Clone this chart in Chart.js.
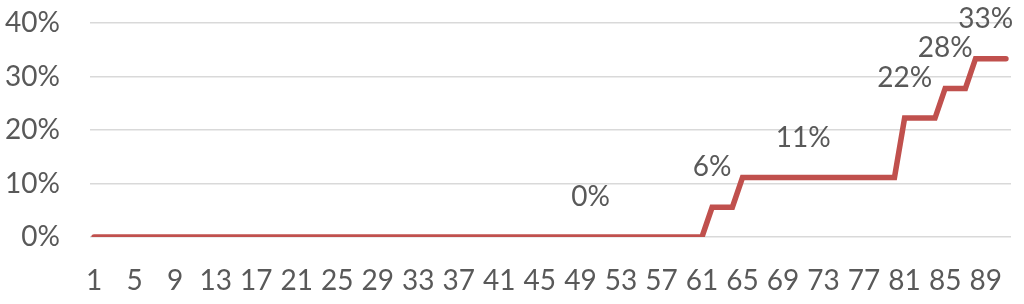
<!DOCTYPE html>
<html>
<head>
<meta charset="utf-8">
<script src="https://cdn.jsdelivr.net/npm/chart.js@4/dist/chart.umd.min.js"></script>
<style>
  html, body { margin: 0; padding: 0; background: #ffffff; }
  #wrap { width: 1024px; height: 304px; }
</style>
</head>
<body>
<div id="wrap"><canvas id="c" width="1024" height="304"></canvas></div>
<script>
const categories = [1,2,3,4,5,6,7,8,9,10,11,12,13,14,15,16,17,18,19,20,21,22,23,24,25,26,27,28,29,30,31,32,33,34,35,36,37,38,39,40,41,42,43,44,45,46,47,48,49,50,51,52,53,54,55,56,57,58,59,60,61,62,63,64,65,66,67,68,69,70,71,72,73,74,75,76,77,78,79,80,81,82,83,84,85,86,87,88,89,90,91];
const values = [0,0,0,0,0,0,0,0,0,0,0,0,0,0,0,0,0,0,0,0,0,0,0,0,0,0,0,0,0,0,0,0,0,0,0,0,0,0,0,0,0,0,0,0,0,0,0,0,0,0,0,0,0,0,0,0,0,0,0,0,0,
  5.56,5.56,5.56,
  11.11,11.11,11.11,11.11,11.11,11.11,11.11,11.11,11.11,11.11,11.11,11.11,11.11,11.11,11.11,11.11,
  22.22,22.22,22.22,22.22,
  27.78,27.78,27.78,
  33.33,33.33,33.33,33.33];
const xTickLabels = [1,5,9,13,17,21,25,29,33,37,41,45,49,53,57,61,65,69,73,77,81,85,89];
const yTickValues = [0,10,20,30,40];
const labelCategories = [50,62,71,81,85,89];
const labelTexts = ['0%','6%','11%','22%','28%','33%'];

const FONT = 'Lato, "Open Sans", sans-serif';
const TEXT = '#595959';

const points = categories.map((c, i) => ({ x: c, y: values[i] }));

const labelPlugin = {
  id: 'pointLabels',
  afterDatasetsDraw(chart) {
    const ctx = chart.ctx;
    const xs = chart.scales.x, ys = chart.scales.y;
    ctx.save();
    ctx.font = '28px ' + FONT;
    ctx.fillStyle = TEXT;
    ctx.textAlign = 'center';
    ctx.textBaseline = 'alphabetic';
    labelCategories.forEach((c, i) => {
      const idx = categories.indexOf(c);
      const px = xs.getPixelForValue(c);
      const py = ys.getPixelForValue(values[idx]);
      ctx.fillText(labelTexts[i], px, py - 41 + 10);
    });
    ctx.restore();
  }
};

new Chart(document.getElementById('c'), {
  type: 'line',
  data: {
    datasets: [{
      data: points,
      borderColor: '#C0504D',
      borderWidth: 5.5,
      borderCapStyle: 'round',
      borderJoinStyle: 'miter',
      pointRadius: 0,
      tension: 0,
      fill: false
    }]
  },
  options: {
    responsive: false,
    animation: false,
    devicePixelRatio: 1,
    layout: { padding: { top: 23, right: 13, bottom: 0, left: 0 } },
    plugins: { legend: { display: false }, tooltip: { enabled: false } },
    scales: {
      x: {
        type: 'linear',
        min: 0.6,
        max: 91.5,
        afterBuildTicks(scale) { scale.ticks = xTickLabels.map(v => ({ value: v })); },
        afterFit(scale) { scale.height = 67; scale.paddingLeft = 0; scale.paddingRight = 0; },
        grid: { display: false, drawTicks: false },
        border: { display: false },
        ticks: {
          autoSkip: false, maxRotation: 0, minRotation: 0,
          padding: 27,
          color: TEXT,
          font: { family: FONT, size: 28 },
          callback: v => String(v)
        }
      },
      y: {
        min: 0,
        max: 40,
        afterBuildTicks(scale) { scale.ticks = yTickValues.map(v => ({ value: v })); },
        afterFit(scale) { scale.width = 90; scale.paddingTop = 0; scale.paddingBottom = 0; },
        grid: { color: '#D9D9D9', lineWidth: 1.5, drawTicks: false },
        border: { display: false },
        ticks: {
          padding: 30,
          color: TEXT,
          font: { family: FONT, size: 28 },
          callback: v => v + '%'
        }
      }
    }
  },
  plugins: [labelPlugin]
});
</script>
</body>
</html>
